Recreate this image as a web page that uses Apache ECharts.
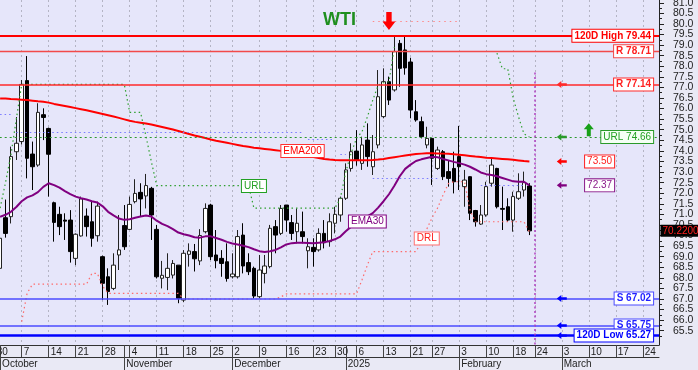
<!DOCTYPE html>
<html><head><meta charset="utf-8">
<script src="https://cdn.jsdelivr.net/npm/echarts@6/dist/echarts.min.js"></script>
<style>html,body{margin:0;padding:0;background:#e9e9f5}#c{width:698px;height:370px}</style>
</head><body><div id="c"></div>
<script>
// ---------- DATA ----------
const monthTradingDays = [
  ['2024-09', [30]],
  ['2024-10', [1,2,3,4,7,8,9,10,11,14,15,16,17,18,21,22,23,24,25,28,29,30,31]],
  ['2024-11', [1,4,5,6,7,8,11,12,13,14,15,18,19,20,21,22,25,26,27,29]],
  ['2024-12', [2,3,4,5,6,9,10,11,12,13,16,17,18,19,20,23,24,26,27,30,31]],
  ['2025-01', [2,3,6,7,8,9,10,13,14,15,16,17,21,22,23,24,27,28,29,30,31]],
  ['2025-02', [3,4,5,6,7,10,11,12,13,14,18,19,20,21,24,25,26,27,28]],
  ['2025-03', [3,4,5,6,7,10,11,12,13,14,17,18,19,20,21,24,25,26,27]]
];
const weekTickDates = ['2024-09-30','2024-10-07','2024-10-14','2024-10-21','2024-10-28','2024-11-04','2024-11-11','2024-11-18','2024-11-25','2024-12-02','2024-12-09','2024-12-16','2024-12-23','2024-12-30','2025-01-06','2025-01-13','2025-01-21','2025-01-27','2025-02-03','2025-02-10','2025-02-18','2025-02-24','2025-03-03','2025-03-10','2025-03-17','2025-03-24'];
const monthTickDates = ['2024-10-01','2024-11-01','2024-12-02','2025-01-02','2025-02-03','2025-03-03'];
const monthTickLabels = ['October','November','December','2025','February','March'];
const yTickLabels = [65.5,66.0,66.5,67.0,67.5,68.0,68.5,69.0,69.5,70.0,70.5,71.0,71.5,72.0,72.5,73.0,73.5,74.0,74.5,75.0,75.5,76.0,76.5,77.0,77.5,78.0,78.5,79.0,79.5,80.0,80.5,81.0];

// daily candles from 2024-10-01: [open, close, low, high]
const firstCandleDate = '2024-10-01';
const ohlc = [
 [68.45,69.87,68.20,70.40],[70.84,70.10,69.90,71.70],[70.89,73.73,70.57,74.20],[73.96,74.36,73.57,75.60],
 [74.44,77.14,74.30,77.35],[77.32,73.65,72.70,78.48],[73.85,73.25,72.15,74.44],[73.33,75.82,73.25,76.25],[75.71,75.58,74.51,76.01],
 [75.06,73.84,71.84,75.10],[71.55,70.62,69.71,71.60],[71.00,70.42,70.02,71.36],[70.73,70.68,69.79,71.05],[70.73,69.24,68.72,71.20],
 [68.92,70.06,68.60,70.10],[69.98,71.73,69.95,71.84],[70.92,70.42,69.95,71.28],[70.65,69.87,69.47,71.60],[69.99,71.39,69.71,71.60],
 [69.00,67.74,66.95,69.05],[68.05,67.35,66.72,68.45],[67.50,68.60,67.42,69.16],[69.08,69.32,68.37,70.97],[70.47,69.47,69.32,71.44],
 [70.29,71.47,70.26,71.84],[71.60,71.99,71.52,72.66],[72.04,71.73,70.89,72.47],[71.87,72.36,71.28,72.91],[72.23,70.97,69.79,72.30],
 [70.29,68.05,67.97,70.50],[67.98,68.12,67.50,68.80],[68.02,68.45,67.42,69.16],[68.13,68.68,67.97,68.84],[68.60,67.03,66.80,68.60],
 [66.95,69.16,66.85,69.31],[69.11,69.27,68.53,69.63],[69.24,68.90,68.30,69.60],[68.80,70.00,68.60,70.30],[70.18,71.28,70.10,71.52],
 [71.44,69.00,68.84,71.50],[69.08,68.81,68.45,70.26],[68.92,68.68,68.05,69.31],[68.76,67.97,67.82,69.63],
 [68.05,68.18,67.97,69.16],[68.05,69.95,67.97,70.26],[70.02,68.56,68.21,70.58],[68.72,68.29,68.13,69.16],[68.45,67.14,67.03,68.53],
 [67.11,68.37,67.03,69.08],[68.21,68.56,67.74,69.08],[68.53,70.34,68.45,70.50],[70.42,70.02,69.16,70.73],[70.10,71.28,70.02,71.44],
 [71.44,70.73,70.18,71.44],[70.61,70.10,69.79,70.97],[70.18,70.58,69.63,71.28],[70.18,69.95,69.63,71.13],[69.28,69.47,68.45,69.87],
 [69.44,69.24,68.53,69.87],[69.32,70.10,69.24,70.34],[70.10,69.66,69.39,70.73],[69.71,70.65,69.47,71.05],
 [70.58,71.00,70.10,71.36],[70.97,71.76,70.65,71.84],
 [71.76,73.10,71.68,73.41],[73.17,73.96,73.02,74.36],
 [73.99,73.57,73.30,74.98],[73.41,74.28,73.10,74.67],[74.51,73.73,73.25,75.30],[73.25,73.96,72.86,74.75],[74.28,76.56,74.12,77.82],
 [75.62,77.27,75.54,77.90],[77.27,76.40,76.17,77.51],[76.88,78.69,76.80,79.40],[79.08,77.90,77.03,79.24],[78.77,77.92,77.60,79.44],
 [78.20,75.93,75.54,78.40],[75.85,75.46,75.38,76.40],[75.38,74.67,74.59,75.62],[74.28,74.59,74.12,75.14],
 [74.59,73.65,72.39,74.60],[73.17,74.04,73.10,74.20],[73.96,72.78,72.62,74.04],[73.02,72.70,72.31,73.57],[73.17,72.54,71.99,73.96],
 [73.73,73.25,72.15,75.18],[72.31,72.62,71.36,73.10],[72.78,71.05,70.73,72.80],[71.18,70.65,70.42,71.21],[70.54,70.97,70.50,71.44],
 [70.97,72.31,70.89,72.54],[72.47,73.33,72.31,73.65],[73.17,71.36,71.28,73.20],[71.28,71.24,70.26,72.31],[71.36,70.73,70.65,71.76],
 [70.73,71.84,70.18,72.07],[71.76,72.07,71.68,72.94],[72.15,72.50,71.84,73.02],[72.34,70.22,70.02,72.47]
];
const ema200 = [76.48,76.47,76.45,76.44,76.42,76.40,76.37,76.34,76.32,76.28,76.22,76.17,76.12,76.07,76.02,75.97,75.92,75.86,75.80,75.74,
 75.68,75.62,75.56,75.49,75.42,75.37,75.33,75.29,75.25,75.19,75.13,75.07,75.01,74.94,74.87,74.80,74.73,74.67,74.61,74.54,
 74.48,74.43,74.38,74.33,74.28,74.23,74.19,74.15,74.12,74.09,74.06,74.03,74.00,73.96,73.91,73.86,73.81,73.76,73.71,73.66,
 73.62,73.59,73.57,73.56,73.56,73.56,73.56,73.56,73.56,73.57,73.59,73.62,73.66,73.70,73.74,73.78,73.82,73.85,73.87,73.89,
 73.89,73.88,73.87,73.86,73.84,73.82,73.79,73.76,73.73,73.71,73.68,73.66,73.64,73.62,73.60,73.58,73.55,73.52,73.50];
const ema30 = [70.89,70.98,71.12,71.35,71.62,71.80,71.90,72.05,72.30,72.47,72.38,72.26,72.10,71.96,71.84,71.76,71.70,71.62,71.56,71.38,
 71.12,70.95,70.80,70.74,70.77,70.84,70.90,70.95,70.90,70.70,70.55,70.44,70.30,70.14,70.06,70.00,69.92,69.90,69.96,69.96,
 69.88,69.80,69.70,69.62,69.58,69.52,69.45,69.35,69.26,69.22,69.26,69.32,69.44,69.58,69.64,69.66,69.66,69.65,69.64,69.66,
 69.68,69.74,69.82,69.95,70.20,70.42,70.58,70.73,70.90,71.06,71.32,71.62,71.95,72.35,72.80,73.15,73.35,73.52,73.60,73.66,
 73.72,73.70,73.62,73.55,73.48,73.42,73.35,73.25,73.12,72.98,72.90,72.86,72.80,72.72,72.64,72.56,72.54,72.54,72.37];
const urlLine = [71.3,72.5,73.8,75.5,
 77.14,77.14,77.14,77.14,77.14,77.14,77.14,77.14,77.14,77.14,77.14,77.14,77.14,77.14,77.14,77.14,77.14,77.14,77.14,77.14,
 75.82,75.82,75.82,74.7,73.5,
 72.36,72.36,72.36,72.36,72.36,72.36,72.36,72.36,72.36,72.36,72.36,72.36,72.36,72.36,72.36,72.36,72.36,72.36,
 71.29,71.29,71.29,71.29,71.29,71.29,71.29,71.29,71.29,71.29,71.29,71.29,71.29,71.29,71.29,71.29,
 71.75,73.0,73.9,74.6,74.9,75.6,76.4,77.1,77.22,77.27,78.9,
 null,null,null,null,null,null,null,null,null,null,null,null,null,null,null,null,null,null,
 78.62,77.88,77.88,76.5,75.6,74.8,74.66];
const drlLine = [null,null,null,null,
 65.93,67.27,67.7,67.7,67.7,67.7,67.7,67.7,67.7,67.7,67.7,67.7,67.7,68.21,68.21,67.6,
 67.27,67.27,67.27,67.27,67.27,67.27,67.27,67.27,67.27,67.27,67.27,67.27,67.27,67.27,
 67.0,67.0,67.0,67.0,67.0,67.0,67.0,67.0,67.0,67.0,67.0,67.0,67.0,67.0,67.0,67.0,67.0,67.0,
 67.1,67.24,67.24,67.24,67.24,67.24,67.24,67.24,67.24,67.24,67.24,67.24,67.24,67.24,67.24,
 67.9,68.6,69.24,69.24,69.24,69.24,69.24,69.24,69.24,69.24,69.24,
 69.7,70.3,70.85,71.3,71.9,72.45,72.54,72.54,72.54,71.2,
 70.65,70.65,70.65,70.65,70.65,70.65,70.65,70.65,70.65,70.65,70.18];
const levelValues = [79.44, 78.71, 77.14, 74.66, 67.02, 65.75, 65.27];
const levelLabels = ['120D High 79.44','R 78.71','R 77.14','URL 74.66','S 67.02','S 65.75','120D Low 65.27'];
const pivotStart = ['2024-10-01','2024-10-04','2024-12-20','2024-12-31','2025-01-09','2025-02-07'];
const pivotEnd   = ['2024-10-03','2024-12-19','2024-12-30','2025-01-02','2025-01-28','2025-02-20'];
const pivotValue = [75.74, 74.86, 74.54, 73.84, 72.70, 72.39];
const emaLastValues = [73.50, 72.37];
const lastPrice = 70.22;
const highMarkerDate = '2025-01-14', highMarkerValue = 80.14;
const highDotsStart = '2025-01-09', highDotsEnd = '2025-02-03';
const cycleLineDate = '2025-02-24', cycleLineTop = 77.7;

// ---------- BUILD ----------
const categories = [];
monthTradingDays.forEach(([m, ds]) => ds.forEach(d => categories.push(m + '-' + String(d).padStart(2, '0'))));
const off = categories.indexOf(firstCandleDate);
const pad = (arr, start) => categories.map((_, i) => { const k = i - start; return (k >= 0 && k < arr.length) ? arr[k] : null; });
const candleData = categories.map((_, i) => { const k = i - off; return (k >= 0 && k < ohlc.length) ? ohlc[k] : ['-','-','-','-']; });
const yMin = 64.826, yMax = 81.13;
const FONT = 'Liberation Sans';
const weekSet = new Set(weekTickDates), monthSet = new Set(monthTickDates);
const lastCat = categories[categories.length - 2];
const arrowCat = '2025-03-03';
const LEFT_ARROW = 'path://M0,4 L5,0 L5,2.6 L11,2.6 L11,5.4 L5,5.4 L5,8 Z';
const UP_ARROW = 'path://M5,0 L10,6 L7,6 L7,13 L3,13 L3,6 L0,6 Z';
const DOWN_ARROW = 'path://M3.5,0 L8.5,0 L8.5,9 L12,9 L6,17 L0,9 L3.5,9 Z';

const levelColors = ['#ff0000','#f24a4a','#ff2a2a','#2a9a2a','#4b4bff','#4b4bff','#0000ff'];
const levelWidths = [2, 1.3, 1.6, 1.2, 1.5, 1.5, 2.5];
const boxTextColors = ['#ff0000','#ff2020','#ff2020','#22a022','#1f1fff','#1f1fff','#0000ff'];

function box(cat, val, text, color, border, pos, bold, bg) {
  return { coord: [cat, val], symbol: 'rect', symbolSize: 1, itemStyle: { color: 'rgba(0,0,0,0)' },
    label: { show: true, position: pos, distance: 0, formatter: text, color: color, fontFamily: FONT,
      fontSize: 10, fontWeight: bold ? 'bold' : 'normal', backgroundColor: bg || '#ffffff',
      borderColor: border, borderWidth: 1, padding: [1, 2, 0, 2], lineHeight: 11 } };
}
function arrow(cat, val, sym, size, color) {
  return { coord: [cat, val], symbol: sym, symbolSize: size, itemStyle: { color: color }, label: { show: false } };
}

const markPts = [];
levelValues.forEach((v, k) => {
  markPts.push(box(lastCat, v, levelLabels[k], boxTextColors[k], levelColors[k], 'left', k !== 3, k === 3 ? '#f4fff4' : '#ffffff'));
  if (k !== 1 && k !== 0) markPts.push(arrow(arrowCat, v, LEFT_ARROW, [10, 7], levelColors[k] === '#4b4bff' ? '#0000ff' : levelColors[k]));
});
markPts.push(box('2025-03-12', emaLastValues[0], emaLastValues[0].toFixed(2), '#ff2020', '#ff2020', 'inside', false));
markPts.push(box('2025-03-12', emaLastValues[1], emaLastValues[1].toFixed(2), '#8a1a8a', '#8a1a8a', 'inside', false));
markPts.push(arrow(arrowCat, emaLastValues[0], LEFT_ARROW, [10, 7], '#ff0000'));
markPts.push(arrow(arrowCat, emaLastValues[1], LEFT_ARROW, [10, 7], '#800080'));
markPts.push(arrow('2025-03-10', 75.0, UP_ARROW, [10, 13], '#18a018'));
markPts.push(arrow(highMarkerDate, highMarkerValue, DOWN_ARROW, [13, 18], '#ff0000'));
markPts.push(box('2024-12-19', 73.99, 'EMA200', '#ff0000', '#ff3030', 'inside', false));
markPts.push(box('2025-01-08', 70.66, 'EMA30', '#800080', '#800080', 'inside', false));
markPts.push(box('2024-12-06', 72.34, 'URL', '#22a022', '#22a022', 'inside', false));
markPts.push(box('2025-01-24', 69.86, 'DRL', '#ff2020', '#ff7070', 'inside', false));
markPts.push({ coord: [categories[categories.length - 1], lastPrice], symbol: 'rect', symbolSize: 1, itemStyle: { color: 'rgba(0,0,0,0)' },
  label: { show: true, position: 'right', distance: 1, formatter: lastPrice.toFixed(4), color: '#ff2020', fontFamily: FONT,
    fontSize: 10, backgroundColor: '#000000', padding: [1, 2, 0, 2], lineHeight: 11 } });

const levelLines = levelValues.map((v, k) => ({ yAxis: v,
  lineStyle: { color: levelColors[k], width: levelWidths[k], type: k === 3 ? [2, 3] : 'solid' } }));
const pivotLines = pivotValue.map((v, k) => [
  { coord: [pivotStart[k], v], lineStyle: { color: '#7a7aff', width: 1.2, type: [1.5, 3] } },
  { coord: [pivotEnd[k], v] }]);
const extraLines = [
  [{ coord: [highDotsStart, highMarkerValue], lineStyle: { color: '#ff8a8a', width: 1.2, type: [1.5, 4] } }, { coord: [highDotsEnd, highMarkerValue] }],
  [{ coord: [cycleLineDate, cycleLineTop], lineStyle: { color: '#b040c0', width: 1.5, type: [2, 2.5] } }, { coord: [cycleLineDate, yMin] }]
];

// y labels split into two axes (whole numbers / halves) so none get auto-hidden
const yLabelsWhole = yTickLabels.filter(v => v % 1 === 0);
const yLabelsHalf = yTickLabels.filter(v => v % 1 !== 0);
const yLabelStyle = { show: true, showMinLabel: true, showMaxLabel: true, hideOverlap: false,
  formatter: v => v.toFixed(1), margin: 14, color: '#222', fontSize: 10.5, fontFamily: FONT };

const chart = echarts.init(document.getElementById('c'), null, { renderer: 'canvas' });
chart.setOption({
  animation: false,
  backgroundColor: '#e9e9f5',
  title: { text: 'WTI', left: 323, top: 11, padding: 0, textStyle: { color: '#1f8f1f', fontSize: 18, fontWeight: 'bold', fontFamily: FONT } },
  grid: { left: -5.3, right: 39, top: 0, bottom: 25, show: true, backgroundColor: '#e6e6fa', borderWidth: 0,
    containLabel: false, outerBoundsMode: 'none' },
  xAxis: [
    { type: 'category', data: categories, boundaryGap: false, position: 'bottom',
      axisLine: { show: true, lineStyle: { color: '#333', width: 1 } },
      axisTick: { show: true, length: 12, lineStyle: { color: '#444' }, interval: (i, v) => weekSet.has(v) || monthSet.has(v) },
      axisLabel: { show: true, interval: (i, v) => weekSet.has(v), formatter: v => String(+v.slice(8)), align: 'left',
        margin: 2, padding: [0, 0, 0, 2], color: '#222', fontSize: 10, fontFamily: FONT },
      splitLine: { show: true, interval: (i, v) => weekSet.has(v), lineStyle: { color: '#b4b4c4', type: [2, 3], width: 1 } } },
    { type: 'category', data: categories, boundaryGap: false, position: 'bottom', offset: 12,
      axisLine: { show: true, lineStyle: { color: '#333', width: 1 } },
      axisTick: { show: true, length: 13, lineStyle: { color: '#444' }, interval: (i, v) => monthSet.has(v) },
      axisLabel: { show: true, interval: (i, v) => monthSet.has(v), formatter: v => monthTickLabels[monthTickDates.indexOf(v)] || '',
        align: 'left', margin: 2, padding: [0, 0, 0, 2], color: '#222', fontSize: 10, fontFamily: FONT },
      splitLine: { show: false } }
  ],
  yAxis: [
    { type: 'value', position: 'right', offset: 0, min: yMin, max: yMax, scale: true,
      axisLine: { show: true, lineStyle: { color: '#222' } },
      axisTick: { show: true, length: 5, customValues: yTickLabels, lineStyle: { color: '#222' } },
      axisLabel: Object.assign({ customValues: yLabelsWhole }, yLabelStyle),
      splitLine: { show: false } },
    { type: 'value', position: 'right', offset: 0, min: yMin, max: yMax, scale: true,
      axisLine: { show: false },
      axisTick: { show: true, length: 3, customValues: yTickLabels.map(v => v - 0.25), lineStyle: { color: '#222' } },
      axisLabel: Object.assign({ customValues: yLabelsHalf }, yLabelStyle),
      splitLine: { show: false } }
  ],
  series: [
    { type: 'candlestick', name: 'WTI', data: candleData, barWidth: 4,
      itemStyle: { color: '#ffffff', color0: '#000000', borderColor: '#222222', borderColor0: '#000000', borderWidth: 1 },
      markLine: { silent: true, symbol: ['none', 'none'], label: { show: false }, data: levelLines.concat(pivotLines, extraLines) } },
    { type: 'line', name: 'EMA200', data: pad(ema200, off), showSymbol: false, lineStyle: { color: '#ff0000', width: 2 } },
    { type: 'line', name: 'EMA30', data: pad(ema30, off), showSymbol: false, lineStyle: { color: '#800080', width: 2 } },
    { type: 'line', name: 'URL', data: pad(urlLine, off), showSymbol: false, connectNulls: false, lineStyle: { color: '#2ea02e', width: 1.2, type: [1.5, 3] } },
    { type: 'line', name: 'DRL', data: pad(drlLine, off), showSymbol: false, connectNulls: false, lineStyle: { color: '#ff6a6a', width: 1.2, type: [1.5, 3] },
      markPoint: { silent: true, data: markPts } }
  ]
});
</script></body></html>
